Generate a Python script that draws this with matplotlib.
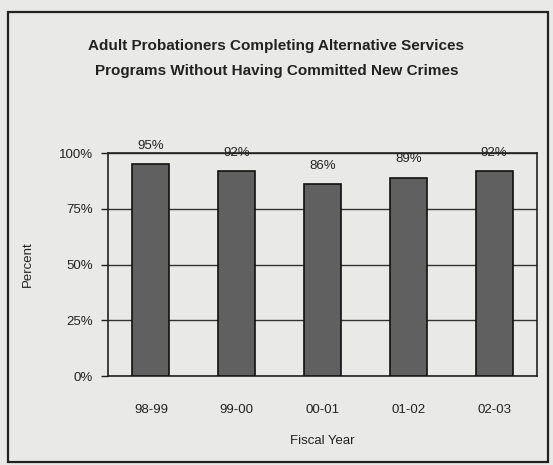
import matplotlib
matplotlib.use("Agg")
import matplotlib.pyplot as plt
from matplotlib.patches import Rectangle
from matplotlib import font_manager

years = ["98-99", "99-00", "00-01", "01-02", "02-03"]
values = [95, 92, 86, 89, 92]
value_labels = ["95%", "92%", "86%", "89%", "92%"]
yticks = [0, 25, 50, 75, 100]
ytick_labels = ["0%", "25%", "50%", "75%", "100%"]

names = {f.name for f in font_manager.fontManager.ttflist}
fam = "Liberation Sans Narrow" if "Liberation Sans Narrow" in names else "Liberation Sans"
plt.rcParams["font.family"] = [fam, "DejaVu Sans"]

W, H = 553, 465
fig = plt.figure(figsize=(W / 100, H / 100), dpi=100)
bg = "#e9e9e7"
fig.patch.set_facecolor(bg)

# outer frame
fig.add_artist(Rectangle((8 / W, 1 - 462 / H), 540 / W, 450 / H, transform=fig.transFigure,
                         fill=False, edgecolor="#222222", linewidth=1.6))

left, right, top, bottom = 108, 537, 153, 376
ax = fig.add_axes([left / W, 1 - bottom / H, (right - left) / W, (bottom - top) / H])
ax.set_facecolor(bg)

x = range(len(years))
ax.bar(x, values, width=0.43, color="#606060", edgecolor="#111111", linewidth=1.2, zorder=3)
for xi, v, lab in zip(x, values, value_labels):
    ax.text(xi, v + 5.5, lab, ha="center", va="bottom", fontsize=9.5, color="#222222")

ax.set_ylim(0, 100)
ax.set_xlim(-0.5, len(years) - 0.5)
ax.set_yticks(yticks)
ax.set_yticklabels(ytick_labels, fontsize=9.5, color="#222222")
ax.set_xticks(list(x))
ax.set_xticklabels(years, fontsize=9.5, color="#222222")
ax.tick_params(axis="x", length=0, pad=20)
ax.tick_params(axis="y", length=5, width=1, pad=6, color="#222222")
ax.yaxis.grid(True, color="#333333", linewidth=1)
ax.set_axisbelow(True)
for s in ax.spines.values():
    s.set_color("#222222")
    s.set_linewidth(1.2)

ax.set_ylabel("Percent", fontsize=9.5, color="#222222", labelpad=18)
ax.set_xlabel("Fiscal Year", fontsize=9.5, color="#222222", labelpad=14)

fig.text(0.5, 1 - 46 / H, "Adult Probationers Completing Alternative Services",
         ha="center", va="center", fontsize=11, fontweight="bold", color="#222222")
fig.text(0.5, 1 - 71 / H, "Programs Without Having Committed New Crimes",
         ha="center", va="center", fontsize=11, fontweight="bold", color="#222222")

fig.savefig("out.png", dpi=100, facecolor=bg)
